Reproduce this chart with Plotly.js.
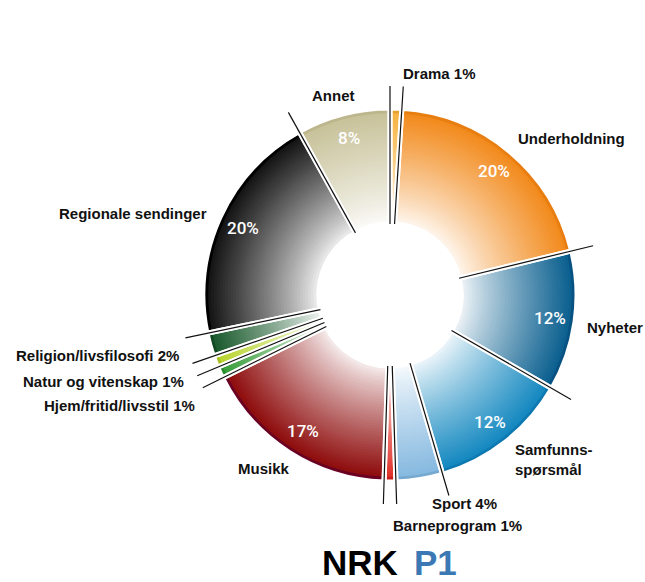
<!DOCTYPE html>
<html><head><meta charset="utf-8">
<script src="https://cdn.plot.ly/plotly-3.0.1.min.js"></script>
<style>body{margin:0;background:#fff}#chart{width:645px;height:582px}</style>
</head><body><div id="chart"></div>
<script>
// ---- data ----
const categories = ["Drama","Underholdning","Nyheter","Samfunnsspørsmål","Sport","Barneprogram","Musikk","Hjem/fritid/livsstil","Natur og vitenskap","Religion/livsfilosofi","Regionale sendinger","Annet"];
const shares = [1,20,12,12,4,1,17,1,1,2,20,8];
const outsideLabels = ["Drama 1%","Underholdning","Nyheter","Samfunns-<br>spørsmål","Sport 4%","Barneprogram 1%","Musikk","Hjem/fritid/livsstil 1%","Natur og vitenskap 1%","Religion/livsfilosofi 2%","Regionale sendinger","Annet"];

// ---- style ----
const W = 645, H = 582;
const CX = 390, CY = 295, R = 187, HOLE = 0.38;
const baseColors = ["#f6b340","#f28a1c","#0a5f8f","#1488c0","#86b9e0","#e0312a","#8e0c0c","#3a9e3c","#b9d431","#1b5b2e","#141414","#c8c29a"];
const rimColors  = ["#e8a030","#e87d10","#075282","#0d79b0","#76a9d0","#c82020","#6a0022","#2a8a2e","#a8c020","#124a22","#000000","#bdb68c"];
const labelPos = [[401,73,"left"],[516,138,"left"],[585,327,"left"],[513,459,"left"],[430,503,"left"],[391,525,"left"],[236,468,"left"],[197,405,"right"],[186,381,"right"],[181,355,"right"],[209,213,"right"],[310,96,"left"]];

function hexToRgb(h){return [1,3,5].map(i=>parseInt(h.substr(i,2),16));}
function blend(hex,t){const c=hexToRgb(hex);return "rgb("+c.map(v=>Math.round(255+(v-255)*t)).join(",")+")";}

const domain = {x:[(CX-R)/W,(CX+R)/W], y:[(H-CY-R)/H,(H-CY+R)/H]};
const common = {type:"pie", values:shares, labels:categories, sort:false, direction:"clockwise", rotation:0,
  domain:domain, textinfo:"none", hoverinfo:"none", showlegend:false};

const traces = [];
const N = 40, RIM = 0.972;
for(let k=0;k<N;k++){
  const h = HOLE + (RIM-HOLE)*k/N;
  const t = 0.04 + 0.96*Math.pow((k+0.5)/N, 0.85);
  traces.push(Object.assign({}, common, {hole:h, marker:{colors:baseColors.map(c=>blend(c,t)), line:{width:0}}}));
}
traces.push(Object.assign({}, common, {hole:RIM, marker:{colors:rimColors, line:{width:0}}}));
// white separators
traces.push(Object.assign({}, common, {hole:HOLE, marker:{colors:shares.map(()=> "rgba(0,0,0,0)"), line:{color:"#ffffff", width:5}}}));

const total = shares.reduce((a,b)=>a+b,0);
const px = x => x/W, py = y => 1 - y/H;
const shapes = [], annotations = [];
let cum = 0;
shares.forEach((v,i)=>{
  const a0 = 2*Math.PI*cum/total;
  const r1 = HOLE*R, r2 = R+22;
  shapes.push({type:"line", xref:"paper", yref:"paper",
    x0:px(CX+r1*Math.sin(a0)), y0:py(CY-r1*Math.cos(a0)),
    x1:px(CX+r2*Math.sin(a0)), y1:py(CY-r2*Math.cos(a0)),
    line:{color:"#111", width:1.2}});
  const am = 2*Math.PI*(cum+v/2)/total;
  if(v>=8){
    const rr = 0.865*R;
    annotations.push({xref:"paper", yref:"paper", x:px(CX+rr*Math.sin(am)), y:py(CY-rr*Math.cos(am)),
      text:v+"%", showarrow:false, xanchor:"center", yanchor:"middle",
      font:{family:"Roboto, Liberation Sans, sans-serif", size:17, color:"#ffffff", weight:500}});
  }
  const lp = labelPos[i];
  annotations.push({xref:"paper", yref:"paper", x:px(lp[0]), y:py(lp[1]), text:outsideLabels[i], showarrow:false,
    xanchor:lp[2], yanchor:"middle", align:"left",
    font:{family:"Liberation Sans, Arial, sans-serif", size:15, color:"#111", weight:700}});
  cum += v;
});
annotations.push({xref:"paper", yref:"paper", x:px(400), y:py(562), text:"NRK", showarrow:false, xanchor:"right", yanchor:"middle",
  font:{family:"Liberation Sans, Arial, sans-serif", size:35, color:"#000", weight:700}});
annotations.push({xref:"paper", yref:"paper", x:px(412), y:py(562), text:"P1", showarrow:false, xanchor:"left", yanchor:"middle",
  font:{family:"Liberation Sans, Arial, sans-serif", size:35, color:"#3b78b4", weight:700}});

Plotly.newPlot("chart", traces, {width:W, height:H, margin:{l:0,r:0,t:0,b:0}, paper_bgcolor:"#fff",
  showlegend:false, shapes:shapes, annotations:annotations}, {displayModeBar:false, staticPlot:true});
</script></body></html>
